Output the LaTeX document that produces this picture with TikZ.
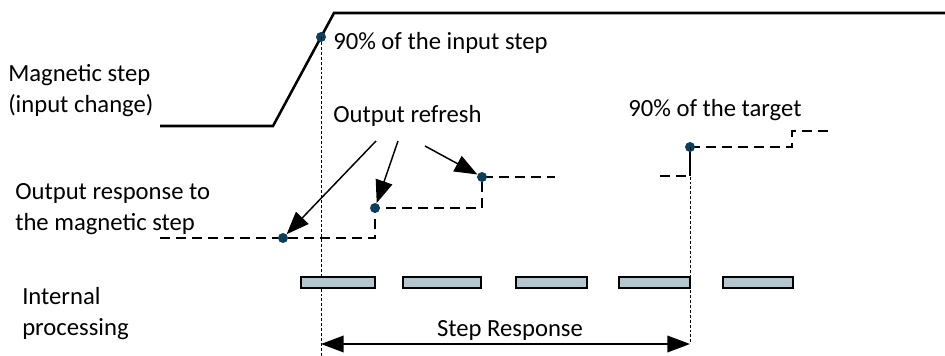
\documentclass[tikz,border=0pt]{standalone}
\usepackage{fontspec}
\setmainfont{Carlito}
\usetikzlibrary{arrows.meta}
\definecolor{dotblue}{HTML}{0D3F5A}
\definecolor{procfill}{HTML}{B4C6CE}

\begin{document}
\begin{tikzpicture}[x=0.75pt,y=-0.75pt,
  lbl/.style={font=\fontsize{18.5}{23.25}\selectfont, inner sep=0pt, align=left},
  sig/.style={line width=1.9pt, line join=miter},
  outsig/.style={line width=1.5pt, dash pattern=on 7.5pt off 4.5pt},
  guide/.style={line width=0.6pt, dash pattern=on 2.2pt off 1.5pt},
  pt/.style={circle, fill=dotblue, inner sep=0pt, minimum size=7.5pt},
  proc/.style={draw, line width=1.1pt, fill=procfill, minimum height=8.25pt, inner sep=0pt},
  ptr/.style={line width=1.1pt, -{Triangle[length=17pt,width=13pt]}},
  span/.style={line width=1.1pt, {Triangle[length=17pt,width=12.5pt]}-{Triangle[length=17pt,width=12.5pt]}},
]
\useasboundingbox (0,0) rectangle (945,356);

% row labels (anchored on the baseline of their last line)
\node[lbl, anchor=base west] (mag) at (8,113) {Magnetic step\\(input change)};
\node[lbl, anchor=base west] (resp) at (15,230) {Output response to\\the magnetic step};
\node[lbl, anchor=base west] (intp) at (22,335) {Internal\\processing};

% input step
\draw[sig] (160,126) -- (273,126) -- (334,13) -- (945,13);

% sampled output
\draw[outsig] (160,238) -- (375,238) -- (375,208) -- (482,208) -- (482,177) -- (555,177);
\draw[outsig] (660,176) -- (690,176);
\draw[line width=1.5pt] (690,176) -- (690,147);
\draw[outsig] (690,147) -- (792,147) -- (792,131) -- (834,131);

% marker points
\node[pt] (d0) at (321,37) {};
\node[pt] (d1) at (283,238) {};
\node[pt] (d2) at (375,208) {};
\node[pt] (d3) at (482,177) {};
\node[pt] (d4) at (690,147) {};

% guide lines and step response span
\coordinate (g0) at (321,356);
\coordinate (s0) at (321,344);
\coordinate (s1) at (690,344);
\draw[guide] (d0.center) -- (g0);
\draw[guide] (d4.center) -- (s1);
\draw[span] (s0) -- (s1);

% processing slots
\node[proc, minimum width=55.5pt] (p1) at (338,282.5) {};
\node[proc, minimum width=58.5pt] (p2) at (442,282.5) {};
\node[proc, minimum width=53.25pt] (p3) at (551.5,282.5) {};
\node[proc, minimum width=53.25pt] (p4) at (654.5,282.5) {};
\node[proc, minimum width=52.5pt] (p5) at (758,282.5) {};

% annotations
\node[lbl, anchor=base west] (in90) at (333,50) {90\% of the input step};
\node[lbl, anchor=base west] (refresh) at (333,123) {Output refresh};
\node[lbl, anchor=base west] (tg90) at (628,117) {90\% of the target};
\node[lbl, anchor=base] (srlbl) at (510,336) {Step Response};

\coordinate (r1) at (376,141);
\coordinate (r2) at (398,141);
\coordinate (r3) at (425,146);
\draw[ptr] (r1) -- (d1);
\draw[ptr] (r2) -- (d2);
\draw[ptr] (r3) -- (d3);
\end{tikzpicture}
\end{document}
